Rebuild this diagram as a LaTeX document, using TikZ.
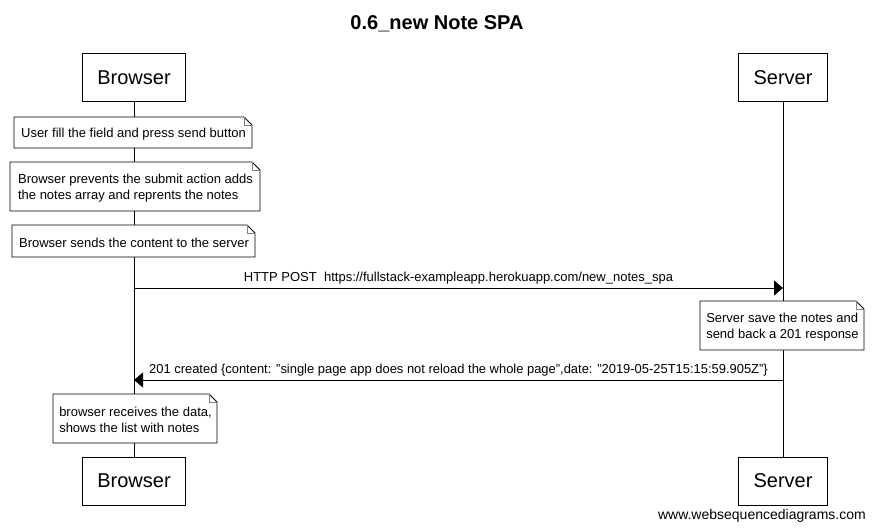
\documentclass[tikz,border=0pt]{standalone}
\usepackage{fontspec}
\setmainfont{Liberation Sans}
\usetikzlibrary{arrows.meta}
\tikzset{
  party/.style={draw, line width=1pt, minimum height=48pt, inner sep=0pt, font=\fontsize{20}{24}\selectfont},
  notetext/.style={inner sep=0pt, align=left, font=\fontsize{13}{16}\selectfont},
  lifeline/.style={line width=1pt},
  msg/.style={line width=1pt, -{Triangle[length=9pt,width=15pt]}},
  msglabel/.style={font=\fontsize{13}{16}\selectfont, inner sep=0pt}
}
\newcommand{\notebox}[5]{% name, x, y, w, h
  \coordinate (#1-nw) at (#2-#4/2,#3-#5/2);
  \coordinate (#1-se) at (#2+#4/2,#3+#5/2);
  \fill[white] (#1-nw) -- ++(#4-8,0) -- ++(8,8) |- (#1-nw |- #1-se) -- cycle;
  \draw[line width=0.8pt] (#1-nw) -- ++(#4-8,0) coordinate (#1-f) -- ++(8,8) coordinate (#1-g) -- (#1-se) -- (#1-nw |- #1-se) -- cycle;
  \draw[gray, line width=0.6pt] (#1-f) -- (#1-f |- #1-g) -- (#1-g);
}
\newcommand{\dq}{\symbol{34}}
\begin{document}
\begin{tikzpicture}[x=1pt,y=-1pt]
\useasboundingbox[fill=white] (0,0) rectangle (875,529);

\node[font=\bfseries\fontsize{20}{24}\selectfont] (title) at (437,23.5) {0.6\_new Note SPA};

\node[party, minimum width=103pt] (bt) at (134,78) {Browser};
\node[party, minimum width=89pt] (st) at (783,78) {Server};
\node[party, minimum width=103pt] (bb) at (134,481) {Browser};
\node[party, minimum width=89pt] (sb) at (783,481) {Server};

\draw[lifeline] (bt.south) -- (bb.north);
\draw[lifeline] (st.south) -- (sb.north);

% notes
\notebox{n1}{133}{132.5}{238}{31}
\node[notetext] (t1) at (133.5,134) {User fill the field and press send button};
\notebox{n2}{135}{186.5}{250}{49}
\node[notetext] (t2) at (135.5,188) {Browser prevents the submit action adds\\the notes array and reprents the notes};
\notebox{n3}{133.5}{241}{243}{32}
\node[notetext] (t3) at (134,242.5) {Browser sends the content to the server};

% message 1
\coordinate (b1) at (134,288);
\coordinate (s1) at (783,288);
\draw[msg] (b1) -- (s1) node[msglabel, midway, above=3pt] (l1) {HTTP POST\ \ https://fullstack-exampleapp.herokuapp.com/new\_notes\_spa};

\notebox{n4}{782}{325.5}{164}{49}
\node[notetext] (t4) at (782.5,327) {Server save the notes and\\send back a 201 response};

% message 2
\coordinate (s2) at (783,380);
\coordinate (b2) at (134,380);
\draw[msg] (s2) -- (b2) node[msglabel, midway, above=3pt, xscale=0.995] (l2) {201 created \{content: \dq single page app does not reload the whole page\dq,date: \dq 2019-05-25T15:15:59.905Z\dq\}};

\notebox{n5}{135}{418.5}{164}{49}
\node[notetext] (t5) at (135.5,420) {browser receives the data,\\shows the list with notes};

\node[anchor=base east, inner sep=0pt, font=\fontsize{14}{16}\selectfont] (foot) at (866,519) {www.websequencediagrams.com};
\end{tikzpicture}
\end{document}
